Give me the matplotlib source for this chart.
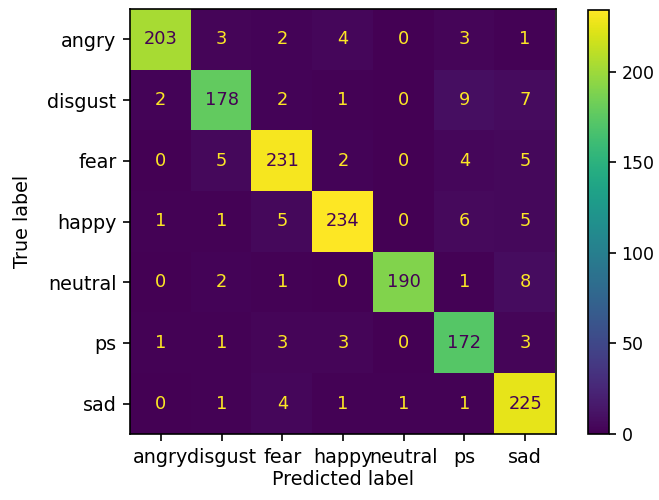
import numpy as np
import matplotlib.pyplot as plt

labels = ["angry", "disgust", "fear", "happy", "neutral", "ps", "sad"]
cm = np.array([
    [203, 3, 2, 4, 0, 3, 1],
    [2, 178, 2, 1, 0, 9, 7],
    [0, 5, 231, 2, 0, 4, 5],
    [1, 1, 5, 234, 0, 6, 5],
    [0, 2, 1, 0, 190, 1, 8],
    [1, 1, 3, 3, 0, 172, 3],
    [0, 1, 4, 1, 1, 1, 225],
])

plt.rcParams["font.size"] = 13.8
plt.rcParams["axes.linewidth"] = 1.2
for a in ("xtick", "ytick"):
    plt.rcParams[a + ".major.size"] = 5
    plt.rcParams[a + ".major.width"] = 1.2
    plt.rcParams[a + ".major.pad"] = 5

fig = plt.figure(figsize=(6.59, 5.0), dpi=100)
ax = fig.add_axes([130 / 659, 66 / 500, 426 / 659, 425 / 500])
cax = fig.add_axes([588 / 659, 66 / 500, 21 / 659, 424 / 500])

cmap = plt.get_cmap("viridis")
im = ax.imshow(cm, cmap=cmap, interpolation="nearest", vmin=cm.min(), vmax=cm.max())

# text colour flips at the midpoint, like sklearn's display
thresh = (cm.max() + cm.min()) / 2.0
for i in range(cm.shape[0]):
    for j in range(cm.shape[1]):
        color = cmap(0.0) if cm[i, j] >= thresh else cmap(1.0)
        ax.text(j, i, str(cm[i, j]), ha="center", va="center", color=color,
                fontsize=12.8)

ax.set_xticks(range(len(labels)))
ax.set_xticklabels(labels)
ax.set_yticks(range(len(labels)))
ax.set_yticklabels(labels)
ax.set_xlabel("Predicted label", labelpad=2)
ax.set_ylabel("True label", labelpad=11)

cb = fig.colorbar(im, cax=cax)
cb.ax.tick_params(labelsize=12.5, pad=4)

fig.savefig("out.png", dpi=100)
